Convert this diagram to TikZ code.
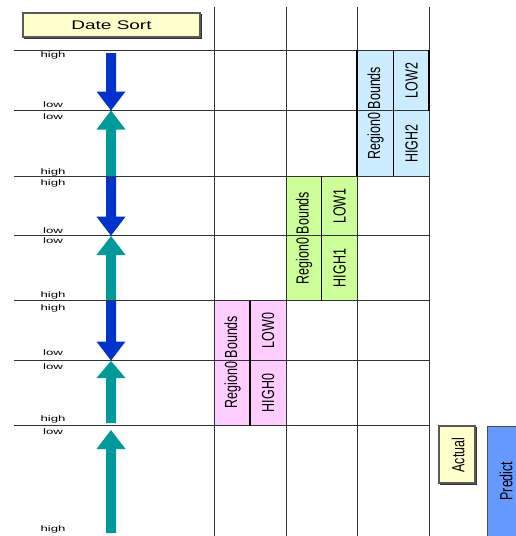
\documentclass[tikz,border=0pt]{standalone}
\usepackage{fontspec}
\usepackage{graphicx}
\setmainfont{Liberation Sans}
\definecolor{arrblue}{HTML}{0033CC}
\definecolor{arrteal}{HTML}{009999}
\definecolor{boxblue}{HTML}{CCECFF}
\definecolor{boxgreen}{HTML}{CCFF99}
\definecolor{boxpink}{HTML}{FFCCFF}
\definecolor{boxyellow}{HTML}{FFFFCC}
\definecolor{boxpredict}{HTML}{6699FF}
\newcommand\fatarrow[4]{\fill[#1] (106,#2) -- (116,#2) -- (116,#4) -- (125.5,#4) -- (111,#3) -- (96.5,#4) -- (106,#4) -- cycle;}
\newcommand\hl[1]{\fontsize{8}{9}\selectfont\scalebox{1.65}[1]{#1}}
\newcommand\rt[1]{\scalebox{1}[1.4]{#1}}
\begin{document}
\begin{tikzpicture}[x=1pt,y=-1pt,
  gridline/.style={draw=black!80, line width=0.9pt},
  sepline/.style={draw=black, line width=1.8pt},
  lbl/.style={inner sep=0pt, anchor=center},
  rtxt/.style={rotate=90, inner sep=0pt, font=\fontsize{12.5}{14}\selectfont},
  tagbox/.style={draw=black!65, line width=1.1pt, fill=boxyellow}
]
\useasboundingbox (0,0) rectangle (516,536);
\fill[white] (0,0) rectangle (516,536);

% coloured regions
\fill[boxpink]  (214.5,300.5) rectangle (286,425.7);
\fill[boxgreen] (286,176) rectangle (357,300.5);
\fill[boxblue]  (357,50) rectangle (429.3,176);

% grid
\foreach \yy in {50,110.5,176,235.7,300.5,360.7,425.7}
  \draw[gridline] (14,\yy) -- (429.3,\yy);
\foreach \xx in {214.5,286,357,429.3}
  \draw[gridline] (\xx,7) -- (\xx,536);

% separators inside coloured regions
\draw[sepline] (250,300.5) -- (250,425.7);
\draw[sepline] (321.5,176) -- (321.5,300.5);
\draw[sepline] (393.5,50) -- (393.5,176);
\draw[sepline] (357,50) -- (357,176);
\draw[sepline] (429.3,50) -- (429.3,110.5);

% title
\draw[black!80, line width=1.4pt] (24,38) -- (201,38) -- (201,13.5);
\node[tagbox, minimum width=177pt, minimum height=24pt, inner sep=0pt] (title) at (111.5,25)
  {\fontsize{12.5}{14}\selectfont\scalebox{1.52}[1]{Date Sort}};

% arrows
\fatarrow{arrblue}{53}{110.5}{91.5}
\fatarrow{arrteal}{176}{110.5}{129.5}
\fatarrow{arrblue}{177}{235.7}{216.7}
\fatarrow{arrteal}{300}{236}{255}
\fatarrow{arrblue}{301}{360.5}{341.5}
\fatarrow{arrteal}{423}{361}{378}
\fatarrow{arrteal}{533}{430}{449}

% high / low labels
\node[lbl] (h1) at (53,55.5) {\hl{high}};
\node[lbl] (l1) at (53,104.5) {\hl{low}};
\node[lbl] (l2) at (53,117) {\hl{low}};
\node[lbl] (h2) at (53,172) {\hl{high}};
\node[lbl] (h3) at (53,183.5) {\hl{high}};
\node[lbl] (l3) at (53,231) {\hl{low}};
\node[lbl] (l4) at (53,241) {\hl{low}};
\node[lbl] (h4) at (53,295.5) {\hl{high}};
\node[lbl] (h5) at (53,308.5) {\hl{high}};
\node[lbl] (l5) at (53,353) {\hl{low}};
\node[lbl] (l6) at (53,367) {\hl{low}};
\node[lbl] (h6) at (53,419.5) {\hl{high}};
\node[lbl] (l7) at (53,432) {\hl{low}};
\node[lbl] (h7) at (53,529.5) {\hl{high}};

% region texts
\node[rtxt] (r0) at (232.5,362) {\rt{Region0 Bounds}};
\node[rtxt] (low0) at (268,330.5) {\rt{LOW0}};
\node[rtxt] (high0) at (268,393) {\rt{HIGH0}};
\node[rtxt] (r1) at (304,238) {\rt{Region0 Bounds}};
\node[rtxt] (low1) at (339.5,206) {\rt{LOW1}};
\node[rtxt] (high1) at (339.5,268) {\rt{HIGH1}};
\node[rtxt] (r2) at (375.5,113) {\rt{Region0 Bounds}};
\node[rtxt] (low2) at (411.5,80.5) {\rt{LOW2}};
\node[rtxt] (high2) at (411.5,143.5) {\rt{HIGH2}};

% legend
\draw[black!80, line width=1.4pt] (440,484) -- (476,484) -- (476,427);
\draw[tagbox] (439,426) rectangle (475,483);
\node[rtxt] (actual) at (458,455) {\rt{Actual}};
\fill[boxpredict] (487,426) rectangle (530,540);
\draw[black!70, line width=1pt] (487,540) -- (487,426) -- (530,426);
\node[rtxt] (predict) at (506,481) {\rt{Predict}};
\end{tikzpicture}
\end{document}
